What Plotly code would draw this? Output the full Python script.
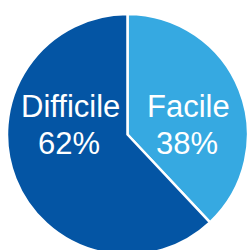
import plotly.graph_objects as go

labels = ["Facile", "Difficile"]
values = [38, 62]
colors = ["#36A9E1", "#0455A4"]

fig = go.Figure(go.Pie(
    labels=labels,
    values=values,
    sort=False,
    direction="clockwise",
    rotation=0,
    marker=dict(colors=colors, line=dict(color="white", width=2.5)),
    textinfo="none",
    showlegend=False,
    hoverinfo="label+percent",
))

# label placement (paper coordinates of plot area) per slice: (x line1, x line2, y line1, y line2)
label_pos = {"Facile": (0.752, 0.745, 0.617, 0.465),
             "Difficile": (0.263, 0.259, 0.617, 0.465)}
total = sum(values)
font = dict(family="Liberation Sans, Arial", size=31, color="white")
for lab, val in zip(labels, values):
    x1, x2, y1, y2 = label_pos[lab]
    pct = f"{round(100 * val / total)}%"
    fig.add_annotation(text=lab, x=x1, y=y1, xref="paper", yref="paper",
                       showarrow=False, font=font, xanchor="center", yanchor="middle")
    fig.add_annotation(text=pct, x=x2, y=y2, xref="paper", yref="paper",
                       showarrow=False, font=font, xanchor="center", yanchor="middle")

fig.update_layout(
    width=248, height=256,
    margin=dict(l=7, r=0, t=13, b=0),
    paper_bgcolor="white",
    plot_bgcolor="white",
)

fig.write_html(
    "out.html",
    config={"displayModeBar": False},
    post_script="document.body.style.margin='0';document.body.style.overflow='hidden';",
)
